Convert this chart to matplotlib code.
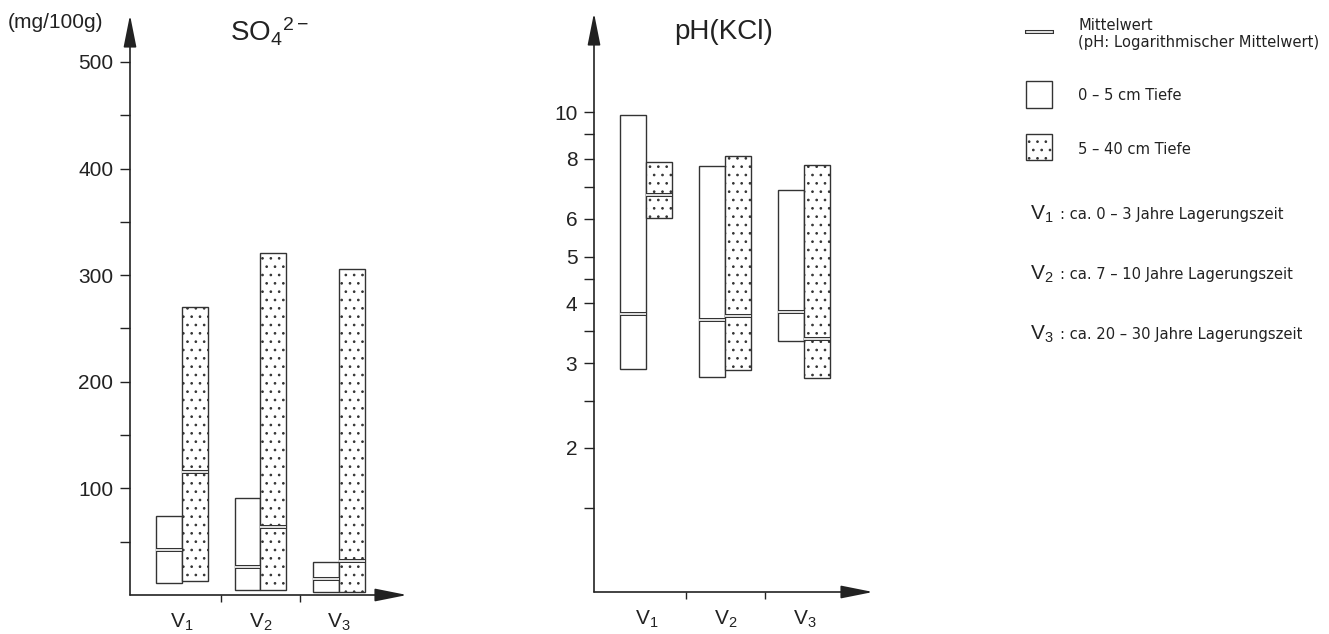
import matplotlib.pyplot as plt
from matplotlib.patches import Rectangle
from matplotlib.ticker import NullFormatter

# data
groups = [1, 2, 3]
group_labels = ["V$_1$", "V$_2$", "V$_3$"]

# sulfate (mg/100g), 0-5 cm = open bars, 5-40 cm = dotted bars
so4_open_bottom = [11, 5, 3]
so4_open_top = [74, 91, 31]
so4_open_mean = [42, 26, 15]
so4_dot_bottom = [13, 5, 3]
so4_dot_top = [270, 321, 306]
so4_dot_mean = [115, 64, 32]

# pH (KCl)
ph_open_bottom = [2.91, 2.80, 3.33]
ph_open_top = [9.86, 7.71, 6.90]
ph_open_mean = [3.80, 3.69, 3.83]
ph_dot_bottom = [6.03, 2.90, 2.79]
ph_dot_top = [7.86, 8.09, 7.78]
ph_dot_mean = [6.71, 3.76, 3.37]

so4_major = [100, 200, 300, 400, 500]
so4_minor = [50, 150, 250, 350, 450]
ph_major = [2, 3, 4, 5, 6, 8, 10]
ph_minor = [1.5, 2.5, 3.5, 4.5, 7, 9]

legend_rows = [": ca. 0 – 3 Jahre Lagerungszeit",
               ": ca. 7 – 10 Jahre Lagerungszeit",
               ": ca. 20 – 30 Jahre Lagerungszeit"]

plt.rcParams["font.family"] = ["Liberation Sans", "DejaVu Sans"]
plt.rcParams["mathtext.fontset"] = "custom"
plt.rcParams["mathtext.rm"] = "Liberation Sans"
plt.rcParams["mathtext.it"] = "Liberation Sans"
plt.rcParams["hatch.linewidth"] = 0.7
plt.rcParams["hatch.color"] = "#333333"

INK = "#222222"
W = 0.33
HATCH = ".."

W_PX, H_PX = 1329, 634
fig = plt.figure(figsize=(W_PX / 100, H_PX / 100), dpi=100)

# small condensed text for the legend
small = dict(fontsize=11.8, family="DejaVu Sans", stretch="condensed", color=INK, va="center")


# draws one panel of bars with the double mean line
def draw_panel(ax, ob, ot, om, db, dt, dm):
    x_open = [g - W / 2 for g in groups]
    x_dot = [g + W / 2 for g in groups]
    ax.bar(x_open, [t - b for t, b in zip(ot, ob)], bottom=ob, width=W,
           color="white", edgecolor="#333333", linewidth=1.0, zorder=2)
    ax.bar(x_dot, [t - b for t, b in zip(dt, db)], bottom=db, width=W,
           color="white", edgecolor="#333333", linewidth=1.0, hatch=HATCH, zorder=2)
    # mean value as double line: thick black with thin white in the middle
    for xs, means in [(x_open, om), (x_dot, dm)]:
        for x, m in zip(xs, means):
            ax.hlines(m, x - W / 2, x + W / 2, color="#333333", lw=2.9, zorder=3)
            ax.hlines(m, x - W / 2, x + W / 2, color="white", lw=1.2, zorder=4)

    for s in ax.spines.values():
        s.set_visible(False)
    arrow = dict(arrowstyle="-|>,head_length=1.1,head_width=0.22", lw=1.2,
                 color=INK, mutation_scale=18, shrinkA=0, shrinkB=0)
    ax.annotate("", xy=(0, 1), xytext=(0, 0), xycoords="axes fraction", arrowprops=arrow)
    ax.annotate("", xy=(1, 0), xytext=(0, 0), xycoords="axes fraction", arrowprops=arrow)

    ax.set_xlim(0.336, 3.87)
    ax.set_xticks(groups)
    ax.set_xticklabels(group_labels)
    ax.set_xticks([1.5, 2.5], minor=True)
    ax.tick_params(axis="x", which="major", length=0, pad=12, labelsize=15, colors=INK)
    ax.tick_params(axis="x", which="minor", length=5, width=1, direction="out", colors=INK)
    ax.tick_params(axis="y", which="both", length=7, width=1, direction="out",
                   colors=INK, labelsize=15, pad=5)
    ax.set_facecolor("none")


# left panel: sulfate
ax1 = fig.add_axes([130 / W_PX, 1 - 595 / H_PX, 277 / W_PX, 580 / H_PX])
draw_panel(ax1, so4_open_bottom, so4_open_top, so4_open_mean,
           so4_dot_bottom, so4_dot_top, so4_dot_mean)
ax1.set_ylim(0, 544)
ax1.set_yticks(so4_major)
ax1.set_yticks(so4_minor, minor=True)

# right panel: pH on log scale
ax2 = fig.add_axes([594 / W_PX, 1 - 592 / H_PX, 279 / W_PX, 579 / H_PX])
ax2.set_yscale("log")
draw_panel(ax2, ph_open_bottom, ph_open_top, ph_open_mean,
           ph_dot_bottom, ph_dot_top, ph_dot_mean)
ax2.set_ylim(1, 16.1)
ax2.set_yticks(ph_major)
ax2.set_yticklabels([str(v) for v in ph_major])
ax2.set_yticks(ph_minor, minor=True)
ax2.yaxis.set_minor_formatter(NullFormatter())

# titles and unit
fig.text(8 / W_PX, 1 - 23 / H_PX, "(mg/100g)", fontsize=15, color=INK, va="center", ha="left")
fig.text(269 / W_PX, 1 - 32 / H_PX, "SO$_4{}^{2-}$", fontsize=20, color=INK, va="center", ha="center")
fig.text(724 / W_PX, 1 - 32 / H_PX, "pH(KCl)", fontsize=20, color=INK, va="center", ha="center")

# legend drawn in pixel coordinates
leg = fig.add_axes([0, 0, 1, 1])
leg.set_xlim(0, W_PX)
leg.set_ylim(H_PX, 0)
leg.axis("off")
leg.set_facecolor("none")
leg.plot([1027, 1052], [32, 32], color="#333333", lw=2.9)
leg.plot([1027, 1052], [32, 32], color="white", lw=1.2)
leg.text(1078, 25, "Mittelwert", **small)
leg.text(1078, 43, "(pH: Logarithmischer Mittelwert)", **small)
leg.add_patch(Rectangle((1026, 81), 26, 27, facecolor="white", edgecolor="#333333", lw=1.0))
leg.text(1078, 96, "0 – 5 cm Tiefe", **small)
leg.add_patch(Rectangle((1026, 134), 26, 26, facecolor="white", edgecolor="#333333", lw=1.0, hatch=HATCH))
leg.text(1078, 149, "5 – 40 cm Tiefe", **small)
for i, (lab, row) in enumerate(zip(group_labels, legend_rows)):
    y = 214 + i * 60
    leg.text(1030, y, lab, fontsize=15, color=INK, va="center")
    leg.text(1060, y, row, **small)

plt.savefig("out.png", dpi=100)
plt.close()
